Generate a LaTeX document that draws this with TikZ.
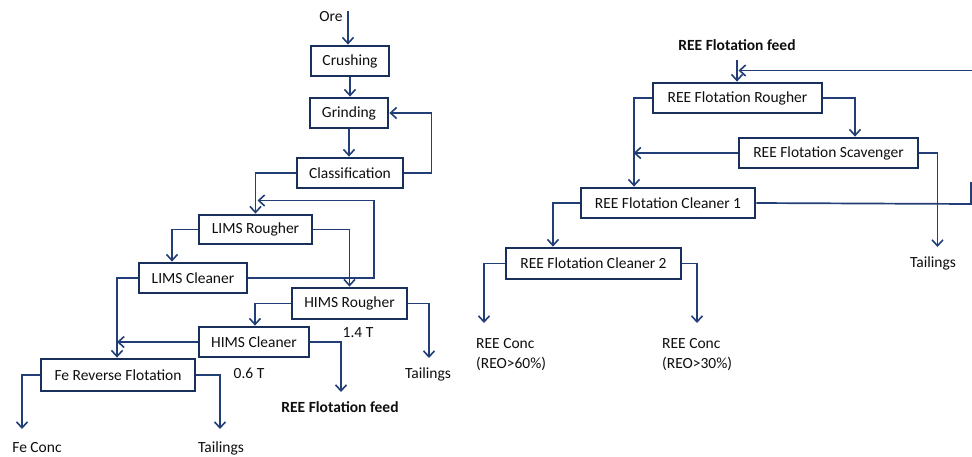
\documentclass[tikz,border=0pt]{standalone}
\usepackage{fontspec}
\setmainfont{Carlito}
\usetikzlibrary{arrows.meta}
\definecolor{boxblue}{RGB}{26,48,92}
\definecolor{lineblue}{RGB}{34,62,118}
\definecolor{txt}{RGB}{15,15,15}
\begin{document}
\begin{tikzpicture}[x=1pt,y=-1pt,
  every node/.style={font=\fontsize{15.5}{20}\selectfont, text=txt},
  proc/.style={draw=boxblue, line width=2.8pt, inner sep=0pt, fill=white},
  lbl/.style={inner sep=0pt},
  flow/.style={draw=lineblue, line width=1.7pt, -{Straight Barb[length=6pt,width=11pt,line width=1.6pt]}},
  plain/.style={draw=lineblue, line width=1.7pt}]
\useasboundingbox (0,0) rectangle (972,456);
\fill[white] (0,0) rectangle (972,456);
% ---------- left circuit ----------
\node[proc, minimum width=78pt, minimum height=30pt] (crush) at (350,61) {Crushing};
\node[proc, minimum width=78pt, minimum height=30pt] (grind) at (349,113) {Grinding};
\node[proc, minimum width=106pt, minimum height=30pt] (class) at (350,173) {Classification};
\node[proc, minimum width=113pt, minimum height=29pt] (limsr) at (255.5,229.5) {LIMS Rougher};
\node[proc, minimum width=108pt, minimum height=30pt] (limsc) at (193,278) {LIMS Cleaner};
\node[proc, minimum width=115pt, minimum height=31pt] (himsr) at (349.5,303.5) {HIMS Rougher};
\node[proc, minimum width=110pt, minimum height=30pt] (himsc) at (254,342) {HIMS Cleaner};
\node[proc, minimum width=154pt, minimum height=32pt] (fe) at (118,375) {Fe Reverse Flotation};

\node[lbl] (ore) at (331,17) {Ore};
\coordinate (oretop) at (348,11);
\node[lbl] (t14) at (358,333) {1.4 T};
\node[lbl] (t06) at (249,373) {0.6 T};
\node[lbl] (tail1) at (428,374) {Tailings};
\node[lbl, font=\fontsize{15.5}{20}\selectfont\bfseries] (feedA) at (340,407) {REE Flotation feed};
\node[lbl, anchor=base] (feconc) at (37,452) {Fe Conc};
\node[lbl, anchor=base] (tail2) at (221,452) {Tailings};

\coordinate (tail1tip) at (429,358);
\coordinate (feedAtip) at (341,392);
\coordinate (feconctip) at (22,429);
\coordinate (tail2tip) at (220,429);
\coordinate (fbturn) at (374,200.5);
\coordinate (fbtip) at (257.5,200.5);
\coordinate (fetop) at ([xshift=-1pt]fe.north);

\draw[flow] (oretop) -- (oretop |- crush.north);
\draw[flow] (crush.south) -- (crush.south |- grind.north);
\draw[flow] (grind.south) -- (grind.south |- class.north);
\draw[flow] (class.east) -- ++(27,0) |- (grind.east);
\draw[flow] (class.west) -| (limsr.north);
\draw[flow] (limsr.west) -| ([xshift=-21pt]limsc.north);
\draw[flow] (limsr.east) -| (himsr.north);
\draw[flow] (limsc.east) -| (fbturn) -- (fbtip);
\draw[flow] (limsc.west) -| (fetop);
\draw[flow] (himsr.west) -| ([xshift=1pt]himsc.north);
\draw[flow] (himsr.east) -| (tail1tip);
\draw[flow] (himsc.west) -- (himsc.west -| fetop);
\draw[flow] (himsc.east) -| (feedAtip);
\draw[flow] (fe.west) -| (feconctip);
\draw[flow] (fe.east) -| (tail2tip);

% ---------- right circuit ----------
\node[proc, minimum width=169pt, minimum height=30pt] (reer) at (737.5,98) {REE Flotation Rougher};
\node[proc, minimum width=179pt, minimum height=30pt] (rees) at (828.5,153) {REE Flotation Scavenger};
\node[proc, minimum width=174pt, minimum height=30pt] (reec1) at (668,203) {REE Flotation Cleaner 1};
\node[proc, minimum width=175pt, minimum height=31pt] (reec2) at (593.5,263.5) {REE Flotation Cleaner 2};

\node[lbl, font=\fontsize{15.5}{20}\selectfont\bfseries] (feedB) at (737,45) {REE Flotation feed};
\node[lbl] (tail3) at (933,263) {Tailings};
\node[lbl, anchor=west, align=left] (conc60) at (476,355) {REE Conc\\(REO>60\%)};
\node[lbl, anchor=west, align=left] (conc30) at (662,355) {REE Conc\\(REO>30\%)};

\coordinate (feedBtop) at (737,60);
\coordinate (recin) at (972,70.5);
\coordinate (rectip) at (738.5,70.5);
\coordinate (tail3tip) at (937.5,247);
\coordinate (c1out) at (972,204);
\coordinate (edgeA) at (971,204);
\coordinate (edgeB) at (971,182);
\coordinate (c60tip) at (484,323);
\coordinate (c30tip) at (697,323);

\draw[flow] (feedBtop) -- (feedBtop |- reer.north);
\draw[flow] (recin) -- (rectip);
\draw[flow] (reer.west) -| ([xshift=-34pt]reec1.north);
\draw[flow] (reer.east) -| ([xshift=26.5pt]rees.north);
\draw[flow] (rees.west) -- ++(-104,0);
\draw[flow] (rees.east) -| (tail3tip);
\draw[plain] (reec1.east) -- (c1out);
\draw[plain, line width=1.2pt] (edgeA) -- (edgeB);
\draw[flow] (reec1.west) -| ([xshift=-40.5pt]reec2.north);
\draw[flow] (reec2.west) -| (c60tip);
\draw[flow] (reec2.east) -| (c30tip);
\end{tikzpicture}
\end{document}
